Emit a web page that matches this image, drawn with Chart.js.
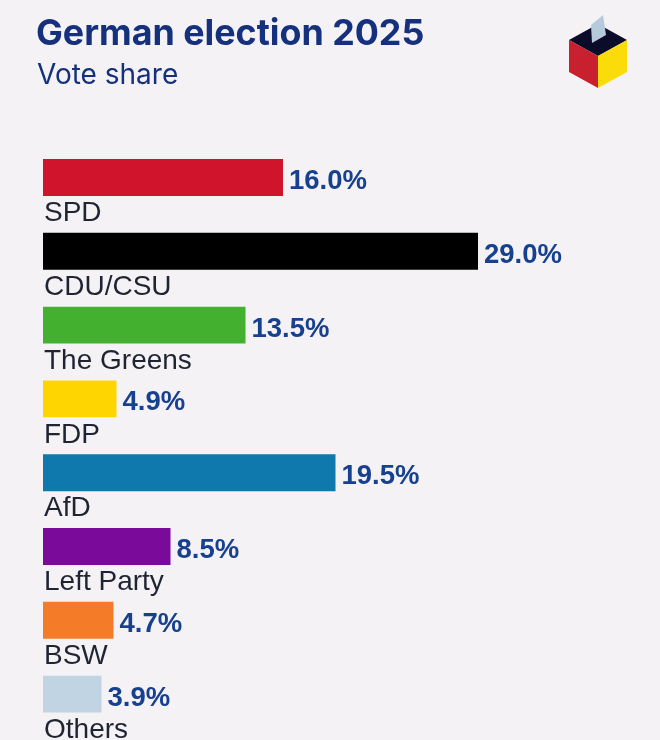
<!DOCTYPE html>
<html>
<head>
<meta charset="utf-8">
<style>
  html, body { margin: 0; padding: 0; background: #f4f2f5; }
  #wrap { position: relative; width: 660px; height: 740px; overflow: hidden; }
  #title { position: absolute; left: 36px; top: 10px; margin: 0; font: 700 35.8px Inter, sans-serif; color: #15307c; white-space: nowrap; }
  #sub { position: absolute; left: 37px; top: 57px; margin: 0; font: 400 28px Inter, sans-serif; color: #15307c; white-space: nowrap; }
  #logo { position: absolute; left: 0; top: 0; }
  canvas { position: absolute; left: 0; top: 0; }
</style>
</head>
<body>
<div id="wrap">
  <canvas id="vote-chart" width="660" height="740"></canvas>
  <h1 id="title">German election 2025</h1>
  <p id="sub">Vote share</p>
  <svg id="logo" width="660" height="100">
    <polygon points="569,40 598,24 627,40 598,56" fill="#0b0b2a"/>
    <polygon points="569,40 598,56 598,88 569,72" fill="#c8202f"/>
    <polygon points="598,56 627,40 627,72 598,88" fill="#fbdc0a"/>
    <polygon points="591,25 603,15 606,35 592,43" fill="#b5cbdc"/>
  </svg>
</div>
<script src="https://cdn.jsdelivr.net/npm/chart.js@4"></script>
<script>
const parties = ["SPD", "CDU/CSU", "The Greens", "FDP", "AfD", "Left Party", "BSW", "Others"];
const shares = [16.0, 29.0, 13.5, 4.9, 19.5, 8.5, 4.7, 3.9];
const colors = ["#cf142b", "#000000", "#43b02f", "#ffd500", "#0f78ad", "#7a0a9a", "#f47b28", "#c0d4e4"];

// value next to the bar end, party name under the bar
const barText = {
  id: 'barText',
  afterDatasetsDraw(chart) {
    const ctx = chart.ctx;
    chart.getDatasetMeta(0).data.forEach(function(bar, i) {
      ctx.save();
      ctx.textBaseline = 'middle';
      ctx.textAlign = 'left';
      ctx.font = 'bold 27.5px "Liberation Sans"';
      ctx.fillStyle = '#17408f';
      ctx.fillText(shares[i].toFixed(1) + '%', bar.x + 6, bar.y + 4);
      ctx.font = '28px "Liberation Sans"';
      ctx.fillStyle = '#1f2433';
      ctx.fillText(parties[i], bar.base + 1, bar.y + 36);
      ctx.restore();
    });
  }
};

new Chart(document.getElementById("vote-chart"), {
  type: 'bar',
  data: {
    labels: parties,
    datasets: [{
      data: shares,
      backgroundColor: colors,
      barPercentage: 0.5,
      categoryPercentage: 1
    }]
  },
  options: {
    indexAxis: 'y',
    responsive: false,
    animation: false,
    layout: { padding: { left: 43, right: 17, top: 140.6, bottom: 9 } },
    scales: {
      x: { display: false, min: 0, max: 40 },
      y: { display: false }
    },
    plugins: {
      legend: { display: false },
      tooltip: { enabled: false }
    }
  },
  plugins: [barText]
});
</script>
</body>
</html>
